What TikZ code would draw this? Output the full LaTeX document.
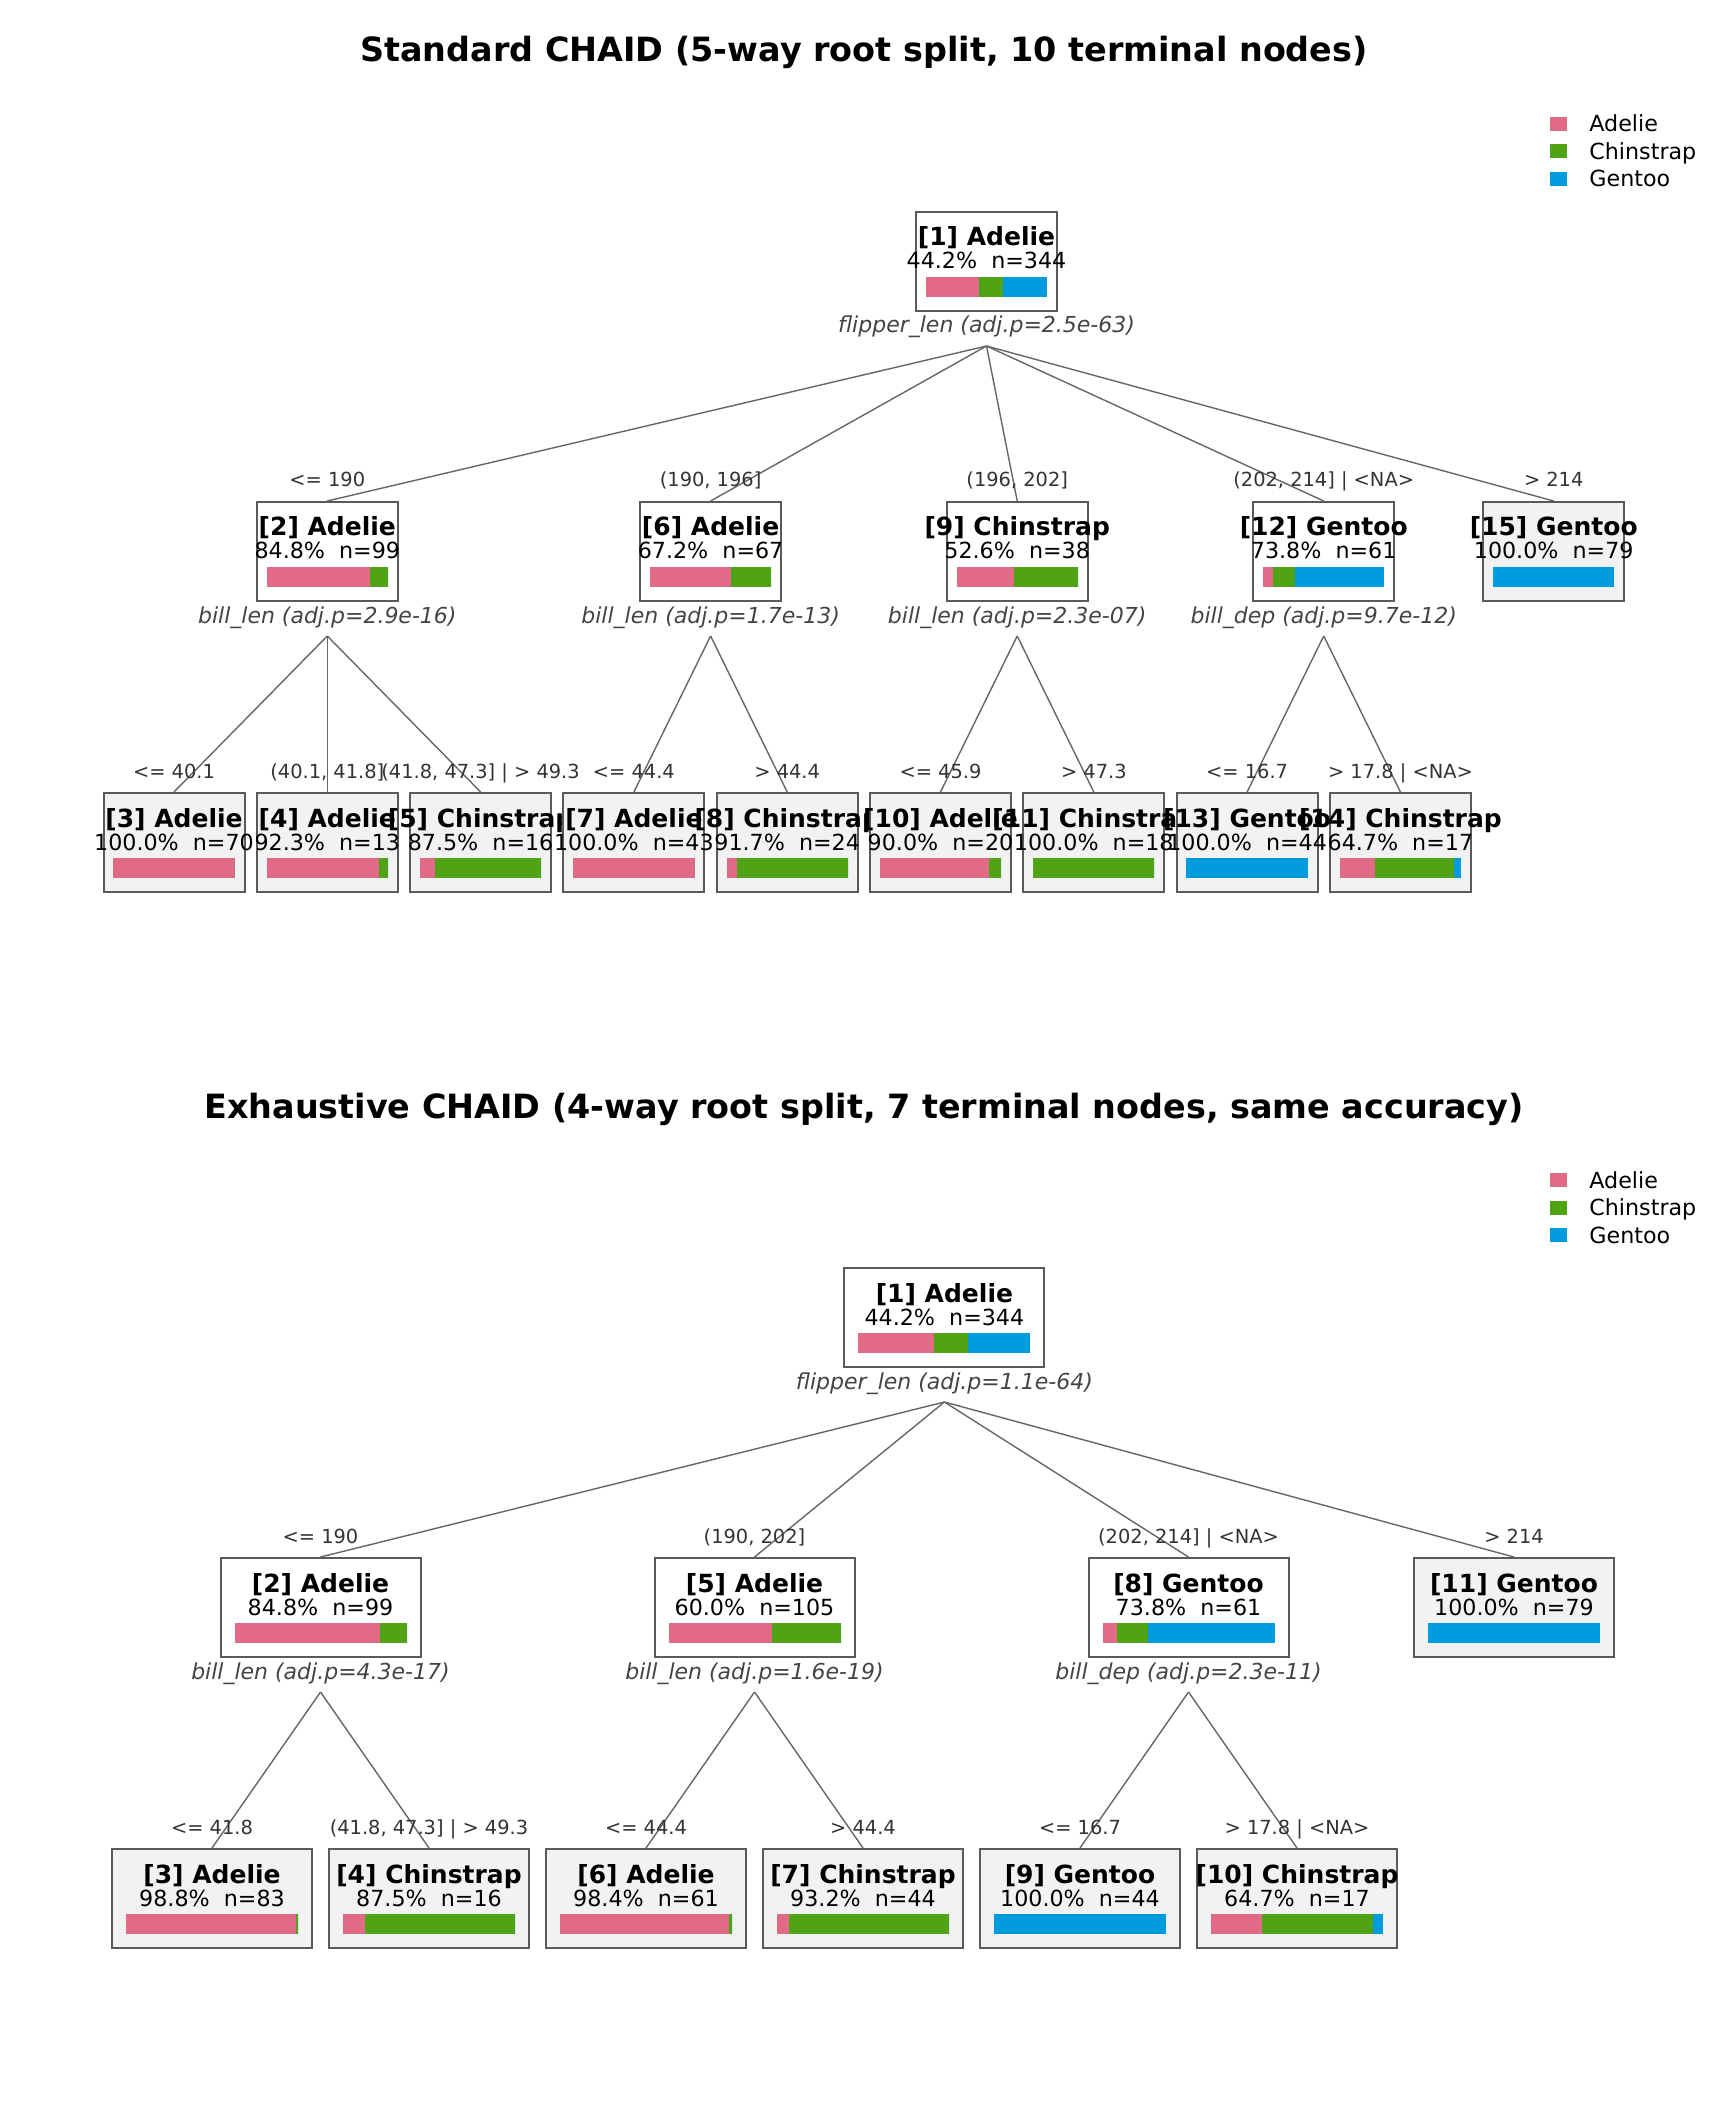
\documentclass[tikz,border=0pt]{standalone}
\usepackage{fontspec}
\setmainfont{DejaVu Sans}
\definecolor{cA}{HTML}{E16A86}
\definecolor{cC}{HTML}{50A315}
\definecolor{cG}{HTML}{009ADE}
\definecolor{bordc}{HTML}{5A5A5A}
\definecolor{edgec}{HTML}{666666}
\definecolor{termc}{HTML}{F2F2F2}
\definecolor{elabc}{HTML}{333333}
\definecolor{slabc}{HTML}{444444}
\pgfdeclarelayer{back}
\pgfdeclarelayer{bg}
\pgfsetlayers{back,bg,main}
\tikzset{
  box/.style={draw=bordc, line width=1pt, inner sep=0pt, minimum height=49.5pt},
  innerbox/.style={box, fill=white},
  termbox/.style={box, fill=termc},
  ttl/.style={font=\fontsize{12.5}{15}\selectfont\bfseries, inner sep=0pt},
  sts/.style={font=\fontsize{11.1}{13}\selectfont, inner sep=0pt},
  elab/.style={font=\fontsize{9.7}{12}\selectfont, text=elabc, inner sep=0pt},
  slab/.style={font=\fontsize{11}{13}\selectfont\itshape, text=slabc, inner sep=0pt},
  legf/.style={font=\fontsize{11.1}{13}\selectfont, inner sep=0pt},
  titlef/.style={font=\fontsize{16.7}{20}\selectfont\bfseries, inner sep=0pt},
  edgeline/.style={draw=edgec, line width=0.7pt},
}
% name, cx, top, width(px), style, title, stats, fracA, fracC
\newcommand{\tnode}[9]{%
  \node[#5, minimum width={#4*0.5pt}] (#1) at (#2,#3+49.5) {};
  \pgfmathsetmacro\bw{0.86*#4}%
  \pgfmathsetmacro\bl{#2-\bw/2}%
  \pgfmathsetmacro\ba{\bl+\bw*(#8)}%
  \pgfmathsetmacro\bc{\ba+\bw*(#9)}%
  \pgfmathsetmacro\br{\bl+\bw}%
  \fill[cA] (\bl,#3+65) rectangle (\ba,#3+85);
  \fill[cC] (\ba,#3+65) rectangle (\bc,#3+85);
  \fill[cG] (\bc,#3+65) rectangle (\br,#3+85);
  \node[ttl, anchor=base] (#1-t) at (#2,#3+34) {#6};
  \node[sts, anchor=base] (#1-s) at (#2,#3+57) {#7};
}
% name, split text
\newcommand{\tsplit}[2]{%
  \node[slab, anchor=base] (#1-p) at ([yshift=-10.5pt]#1.south) {#2};
  \coordinate (#1-o) at ([yshift=-17pt]#1.south);
}
% parent, child, label
\newcommand{\tedge}[3]{%
  \node[elab, anchor=base] (#2-l) at ([yshift=7pt]#2.north) {#3};
  \begin{pgfonlayer}{bg}\draw[edgeline] (#1-o) -- (#2.north);\end{pgfonlayer}
}
% prefix, first y
\newcommand{\legendset}[2]{%
  \foreach \k/\c/\t in {0/cA/Adelie,1/cC/Chinstrap,2/cG/Gentoo}{
    \fill[\c] (1550,#2+\k*27.5-7) rectangle (1567,#2+\k*27.5+7);
    \node[legf, anchor=base west] (#1-\t) at (1589,#2+\k*27.5+8) {\t};
  }
}
\begin{document}
\begin{tikzpicture}[x=0.5pt,y=-0.5pt]
\begin{pgfonlayer}{back}
\fill[white] (0,0) rectangle (1728,2112);
\end{pgfonlayer}
\useasboundingbox (0,0) rectangle (1728,2112);

% ---------------- top tree ----------------
\node[titlef, anchor=base] (title1) at (864,62) {Standard CHAID (5-way root split, 10 terminal nodes)};
\legendset{lg1}{124}

\tnode{t1}{986.5}{212}{141}{innerbox}{[1] Adelie}{44.2\%\ \ n=344}{152/344}{68/344}
\tsplit{t1}{flipper\_len (adj.p=2.5e-63)}
\tnode{t2}{327.3}{502}{141}{innerbox}{[2] Adelie}{84.8\%\ \ n=99}{84/99}{15/99}
\tsplit{t2}{bill\_len (adj.p=2.9e-16)}
\tnode{t3}{174}{793}{141}{termbox}{[3] Adelie}{100.0\%\ \ n=70}{1}{0}
\tnode{t4}{327.3}{793}{141}{termbox}{[4] Adelie}{92.3\%\ \ n=13}{12/13}{1/13}
\tnode{t5}{480.6}{793}{141}{termbox}{[5] Chinstrap}{87.5\%\ \ n=16}{2/16}{14/16}
\tnode{t6}{710.6}{502}{141}{innerbox}{[6] Adelie}{67.2\%\ \ n=67}{45/67}{22/67}
\tsplit{t6}{bill\_len (adj.p=1.7e-13)}
\tnode{t7}{633.9}{793}{141}{termbox}{[7] Adelie}{100.0\%\ \ n=43}{1}{0}
\tnode{t8}{787.2}{793}{141}{termbox}{[8] Chinstrap}{91.7\%\ \ n=24}{2/24}{22/24}
\tnode{t9}{1017.2}{502}{141}{innerbox}{[9] Chinstrap}{52.6\%\ \ n=38}{18/38}{20/38}
\tsplit{t9}{bill\_len (adj.p=2.3e-07)}
\tnode{t10}{940.5}{793}{141}{termbox}{[10] Adelie}{90.0\%\ \ n=20}{18/20}{2/20}
\tnode{t11}{1093.8}{793}{141}{termbox}{[11] Chinstrap}{100.0\%\ \ n=18}{0}{1}
\tnode{t12}{1323.7}{502}{141}{innerbox}{[12] Gentoo}{73.8\%\ \ n=61}{5/61}{11/61}
\tsplit{t12}{bill\_dep (adj.p=9.7e-12)}
\tnode{t13}{1247.1}{793}{141}{termbox}{[13] Gentoo}{100.0\%\ \ n=44}{0}{0}
\tnode{t14}{1400.4}{793}{141}{termbox}{[14] Chinstrap}{64.7\%\ \ n=17}{5/17}{11/17}
\tnode{t15}{1553.7}{502}{141}{termbox}{[15] Gentoo}{100.0\%\ \ n=79}{0}{0}

\tedge{t1}{t2}{<= 190}
\tedge{t1}{t6}{(190, 196]}
\tedge{t1}{t9}{(196, 202]}
\tedge{t1}{t12}{(202, 214] | <NA>}
\tedge{t1}{t15}{> 214}
\tedge{t2}{t3}{<= 40.1}
\tedge{t2}{t4}{(40.1, 41.8]}
\tedge{t2}{t5}{(41.8, 47.3] | > 49.3}
\tedge{t6}{t7}{<= 44.4}
\tedge{t6}{t8}{> 44.4}
\tedge{t9}{t10}{<= 45.9}
\tedge{t9}{t11}{> 47.3}
\tedge{t12}{t13}{<= 16.7}
\tedge{t12}{t14}{> 17.8 | <NA>}

% ---------------- bottom tree ----------------
\node[titlef, anchor=base] (title2) at (864,1118) {Exhaustive CHAID (4-way root split, 7 terminal nodes, same accuracy)};
\legendset{lg2}{1180}

\tnode{b1}{944.4}{1268}{200}{innerbox}{[1] Adelie}{44.2\%\ \ n=344}{152/344}{68/344}
\tsplit{b1}{flipper\_len (adj.p=1.1e-64)}
\tnode{b2}{320.5}{1558}{200}{innerbox}{[2] Adelie}{84.8\%\ \ n=99}{84/99}{15/99}
\tsplit{b2}{bill\_len (adj.p=4.3e-17)}
\tnode{b3}{212}{1849}{200}{termbox}{[3] Adelie}{98.8\%\ \ n=83}{82/83}{1/83}
\tnode{b4}{429}{1849}{200}{termbox}{[4] Chinstrap}{87.5\%\ \ n=16}{2/16}{14/16}
\tnode{b5}{754.5}{1558}{200}{innerbox}{[5] Adelie}{60.0\%\ \ n=105}{63/105}{42/105}
\tsplit{b5}{bill\_len (adj.p=1.6e-19)}
\tnode{b6}{646}{1849}{200}{termbox}{[6] Adelie}{98.4\%\ \ n=61}{60/61}{1/61}
\tnode{b7}{863}{1849}{200}{termbox}{[7] Chinstrap}{93.2\%\ \ n=44}{3/44}{41/44}
\tnode{b8}{1188.5}{1558}{200}{innerbox}{[8] Gentoo}{73.8\%\ \ n=61}{5/61}{11/61}
\tsplit{b8}{bill\_dep (adj.p=2.3e-11)}
\tnode{b9}{1080}{1849}{200}{termbox}{[9] Gentoo}{100.0\%\ \ n=44}{0}{0}
\tnode{b10}{1297}{1849}{200}{termbox}{[10] Chinstrap}{64.7\%\ \ n=17}{5/17}{11/17}
\tnode{b11}{1514}{1558}{200}{termbox}{[11] Gentoo}{100.0\%\ \ n=79}{0}{0}

\tedge{b1}{b2}{<= 190}
\tedge{b1}{b5}{(190, 202]}
\tedge{b1}{b8}{(202, 214] | <NA>}
\tedge{b1}{b11}{> 214}
\tedge{b2}{b3}{<= 41.8}
\tedge{b2}{b4}{(41.8, 47.3] | > 49.3}
\tedge{b5}{b6}{<= 44.4}
\tedge{b5}{b7}{> 44.4}
\tedge{b8}{b9}{<= 16.7}
\tedge{b8}{b10}{> 17.8 | <NA>}
\end{tikzpicture}
\end{document}
